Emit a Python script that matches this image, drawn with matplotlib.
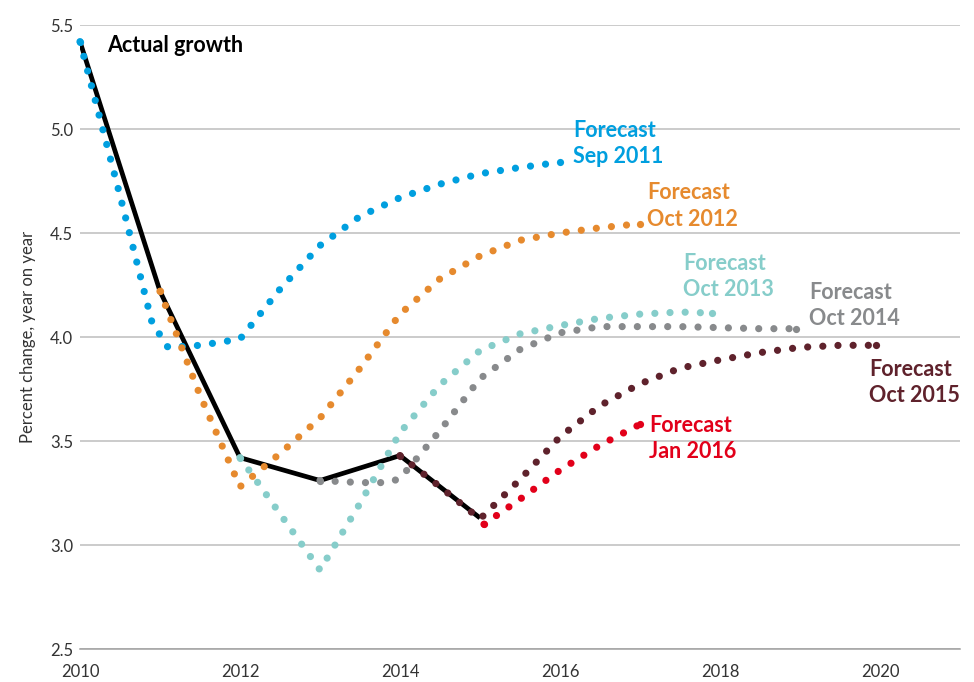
import matplotlib
matplotlib.use("Agg")
from matplotlib import pyplot as plt

plt.rcParams['font.family'] = ['Lato', 'DejaVu Sans']

# actual world growth
actual_years = [2010, 2011, 2012, 2013, 2014, 2015]
actual_vals = [5.42, 4.22, 3.42, 3.31, 3.43, 3.13]

# forecasts
sep2011_years = [2010, 2010.5, 2010.9, 2011.1, 2011.5, 2012, 2012.5, 2013, 2013.5,
                 2014, 2014.5, 2015, 2015.5, 2016]
sep2011_vals = [5.42, 4.68, 4.07, 3.95, 3.96, 3.99, 4.23, 4.44, 4.58,
                4.67, 4.735, 4.785, 4.815, 4.84]

oct2012_years = [2011, 2011.5, 2012, 2012.5, 2013, 2013.5, 2014, 2014.5, 2015,
                 2015.5, 2016, 2016.5, 2017]
oct2012_vals = [4.22, 3.72, 3.28, 3.44, 3.61, 3.85, 4.11, 4.28, 4.39,
                4.465, 4.50, 4.525, 4.545]

oct2013_years = [2012, 2012.5, 2013, 2013.5, 2014, 2014.5, 2015, 2015.5, 2016,
                 2016.5, 2017, 2017.5, 2017.9]
oct2013_vals = [3.42, 3.15, 2.88, 3.20, 3.54, 3.77, 3.935, 4.015, 4.055,
                4.09, 4.11, 4.12, 4.115]

oct2014_years = [2013, 2013.5, 2013.85, 2014, 2014.5, 2015, 2015.5, 2016, 2016.5,
                 2017, 2017.5, 2018, 2018.5, 2018.95]
oct2014_vals = [3.31, 3.30, 3.30, 3.32, 3.55, 3.80, 3.94, 4.02, 4.05,
                4.05, 4.05, 4.045, 4.04, 4.04]

oct2015_years = [2014, 2014.5, 2015, 2015.5, 2016, 2016.5, 2017, 2017.5, 2018,
                 2018.5, 2019, 2019.5, 2019.95]
oct2015_vals = [3.43, 3.28, 3.125, 3.315, 3.52, 3.67, 3.775, 3.85, 3.89,
                3.925, 3.95, 3.96, 3.96]

jan2016_years = [2015.05, 2015.5, 2016, 2016.5, 2017]
jan2016_vals = [3.10, 3.22, 3.36, 3.48, 3.58]

forecasts = [
    ("Forecast\nSep 2011", sep2011_years, sep2011_vals, '#009FDF', (2016.16, 4.93)),
    ("Forecast\nOct 2012", oct2012_years, oct2012_vals, '#E68A2E', (2017.09, 4.63)),
    ("Forecast\nOct 2013", oct2013_years, oct2013_vals, '#86CDCA', (2017.54, 4.29)),
    ("Forecast\nOct 2014", oct2014_years, oct2014_vals, '#888A8C', (2019.11, 4.15)),
    ("Forecast\nOct 2015", oct2015_years, oct2015_vals, '#5F222C', (2019.86, 3.78)),
    ("Forecast\nJan 2016", jan2016_years, jan2016_vals, '#E2001A', (2017.11, 3.51)),
]

fig = plt.figure(figsize=(9.74, 6.82), dpi=100)
ax = fig.add_axes([80/974, 33/682, 880/974, 624/682])

ax.plot(actual_years, actual_vals, color='black', lw=3.4, zorder=2,
        solid_joinstyle='miter', solid_capstyle='butt')

for label, xs, ys, col, pos in forecasts:
    ax.plot(xs, ys, color=col, lw=5.2, linestyle=(0, (0.001, 2.1)),
            dash_capstyle='round', zorder=3, clip_on=False)
    # dots at both ends, like the original
    ax.plot([xs[0], xs[-1]], [ys[0], ys[-1]], 'o', color=col, ms=5.2, mew=0,
            zorder=3, clip_on=False)
    ax.text(pos[0], pos[1], label, color=col, fontsize=15.5, fontweight='bold',
            ha='left', va='center', linespacing=1.3)

ax.text(2010.34, 5.40, "Actual growth", color='black', fontsize=15.5,
        fontweight='bold', ha='left', va='center')

ax.set_xlim(2010, 2021)
ax.set_ylim(2.5, 5.5)
ax.set_xticks([2010, 2012, 2014, 2016, 2018, 2020])
ax.set_yticks([2.5, 3.0, 3.5, 4.0, 4.5, 5.0, 5.5])
ax.set_yticklabels(['2.5', '3.0', '3.5', '4.0', '4.5', '5.0', '5.5'])
ax.tick_params(axis='both', length=0, labelsize=12, labelcolor='#333333')
ax.tick_params(axis='x', pad=11)
ax.tick_params(axis='y', pad=5)

ax.grid(axis='y', color='#BDBDBD', lw=1.1)
ax.set_axisbelow(True)
for s in ['top', 'right', 'left']:
    ax.spines[s].set_visible(False)
ax.spines['bottom'].set_color('#A0A0A0')
ax.spines['bottom'].set_linewidth(1.1)

ax.set_ylabel("Percent change, year on year", fontsize=12, color='#333333', labelpad=10)

fig.savefig("out.png", dpi=100)
